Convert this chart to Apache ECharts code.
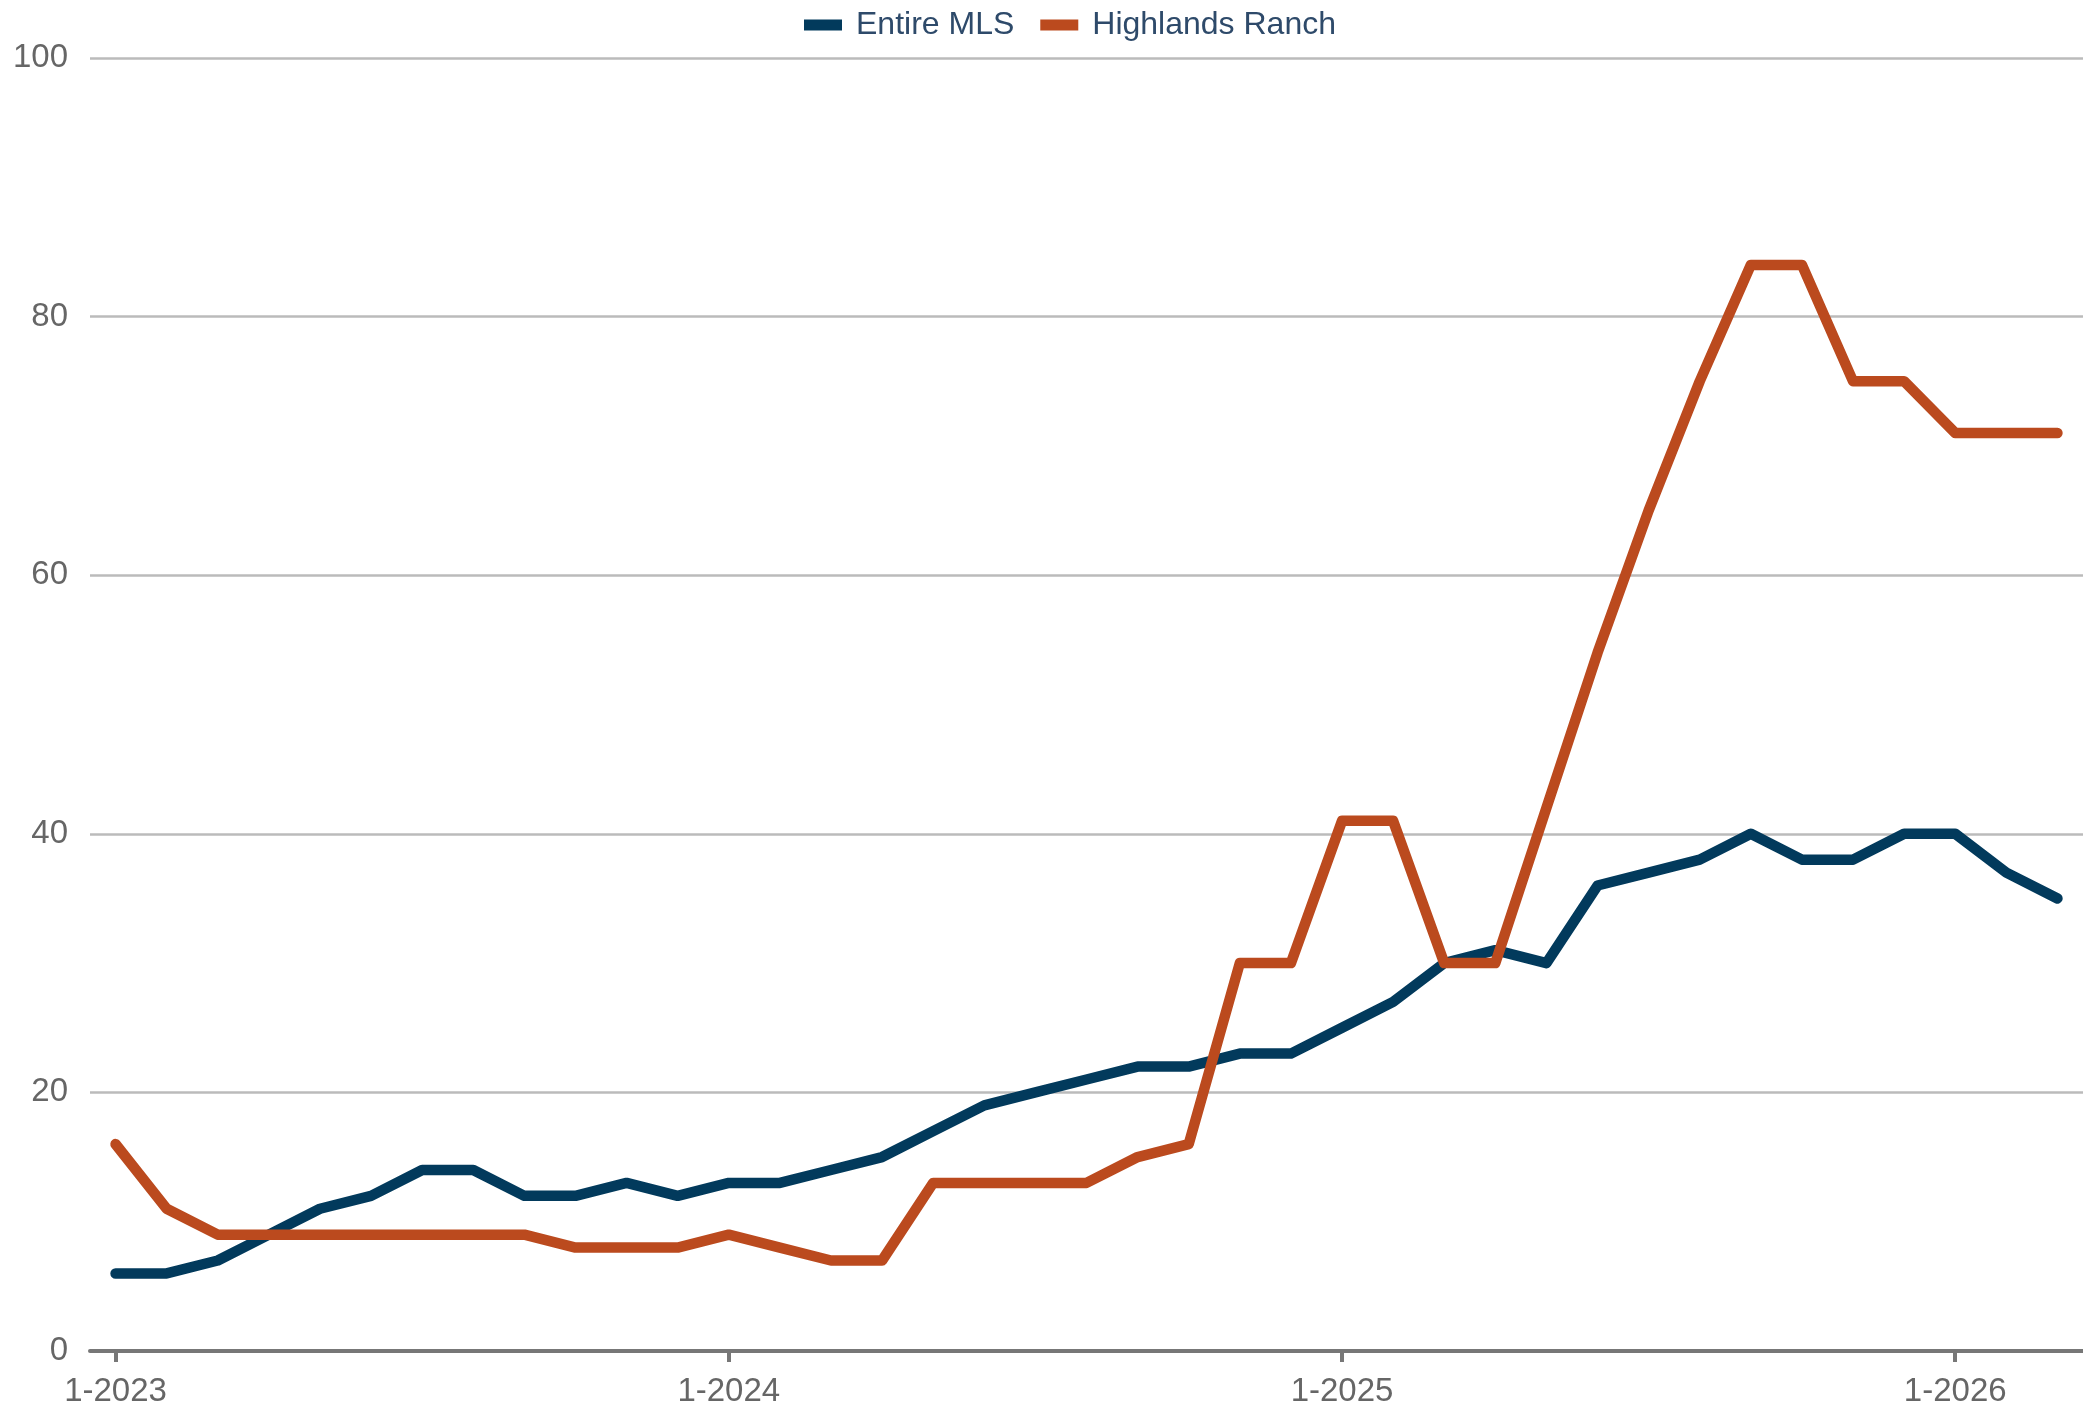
<!DOCTYPE html>
<html>
<head>
<meta charset="utf-8">
<script src="https://cdn.jsdelivr.net/npm/echarts@6/dist/echarts.min.js"></script>
<style>
    html, body { margin: 0; padding: 0; background: #fff; }
    #chart { width: 2083px; height: 1408px; }
</style>
</head>
<body>
<div id="chart"></div>
<script>
// 月份 1-2023 .. 3-2026
var months = [];
for (var y = 2023; y <= 2026; y++) {
    for (var m = 1; m <= 12; m++) {
        if (y === 2026 && m > 3) break;
        months.push(m + '-' + y);
    }
}

var entireMLS = [6, 6, 7, 9, 11, 12, 14, 14, 12, 12, 13, 12,
    13, 13, 14, 15, 17, 19, 20, 21, 22, 22, 23, 23,
    25, 27, 30, 31, 30, 36, 37, 38, 40, 38, 38, 40,
    40, 37, 35];

var highlandsRanch = [16, 11, 9, 9, 9, 9, 9, 9, 9, 8, 8, 8,
    9, 8, 7, 7, 13, 13, 13, 13, 15, 16, 30, 30,
    41, 41, 30, 30, 42, 54, 65, 75, 84, 84, 75, 75,
    71, 71, 71];

var yTicks = [0, 20, 40, 60, 80, 100];

var fontName = 'Liberation Sans';

var myChart = echarts.init(document.getElementById('chart'));
var option = {
    animation: false,
    backgroundColor: '#ffffff',
    color: ['#023a5c', '#bb4a1e'],
    legend: {
        top: 4,
        left: 799,
        itemWidth: 38,
        itemHeight: 11,
        itemGap: 26,
        icon: 'rect',
        textStyle: {
            color: '#2e4a6a',
            fontSize: 32,
            padding: [0, 0, 0, 9],
            fontFamily: fontName
        },
        data: ['Entire MLS', 'Highlands Ranch']
    },
    grid: {
        top: 58,
        bottom: 56,
        left: 90,
        right: 0,
        containLabel: false
    },
    xAxis: {
        type: 'category',
        boundaryGap: true,
        data: months,
        axisLine: {
            show: true,
            lineStyle: { color: '#777777', width: 4 }
        },
        axisTick: {
            show: true,
            alignWithLabel: true,
            interval: 11,
            length: 11,
            lineStyle: { color: '#777777', width: 4 }
        },
        axisLabel: {
            interval: 11,
            color: '#666666',
            fontSize: 33,
            margin: 24,
            fontFamily: fontName
        },
        splitLine: { show: false }
    },
    yAxis: {
        type: 'value',
        min: yTicks[0],
        max: yTicks[yTicks.length - 1],
        interval: 20,
        axisLine: { show: false },
        axisTick: { show: false },
        axisLabel: {
            color: '#666666',
            fontSize: 33,
            margin: 22,
            fontFamily: fontName
        },
        splitLine: {
            lineStyle: { color: '#bbbbbb', width: 2.5 }
        }
    },
    series: [{
            name: 'Entire MLS',
            type: 'line',
            data: entireMLS,
            symbol: 'none',
            lineStyle: { width: 10.5, color: '#023a5c', cap: 'round', join: 'round' }
        },
        {
            name: 'Highlands Ranch',
            type: 'line',
            data: highlandsRanch,
            symbol: 'none',
            z: 3,
            lineStyle: { width: 10.5, color: '#bb4a1e', cap: 'round', join: 'round' }
        }
    ]
};
myChart.setOption(option);
</script>
</body>
</html>
